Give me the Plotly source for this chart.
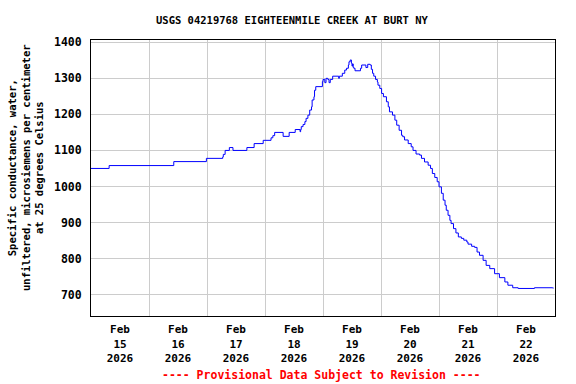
import plotly.graph_objects as go

# Data (time, specific conductance)
times = [
    "2026-02-15 00:00", "2026-02-15 07:30", "2026-02-16 10:15", "2026-02-16 23:45",
    "2026-02-17 06:30", "2026-02-17 06:45", "2026-02-17 07:30", "2026-02-17 09:15",
    "2026-02-17 10:45", "2026-02-17 16:30", "2026-02-17 19:30", "2026-02-17 23:15",
    "2026-02-18 02:30", "2026-02-18 03:15", "2026-02-18 04:00", "2026-02-18 07:30",
    "2026-02-18 10:00", "2026-02-18 12:30", "2026-02-18 14:30", "2026-02-18 14:45",
    "2026-02-18 15:00", "2026-02-18 15:45", "2026-02-18 16:30", "2026-02-18 17:00",
    "2026-02-18 17:45", "2026-02-18 18:30", "2026-02-18 19:15", "2026-02-18 19:30",
    "2026-02-18 20:15", "2026-02-18 20:30", "2026-02-18 21:00", "2026-02-18 23:45",
    "2026-02-19 00:00", "2026-02-19 00:45", "2026-02-19 01:15", "2026-02-19 02:00",
    "2026-02-19 02:30", "2026-02-19 03:00", "2026-02-19 04:00", "2026-02-19 06:30",
    "2026-02-19 06:45", "2026-02-19 08:00", "2026-02-19 09:00", "2026-02-19 09:45",
    "2026-02-19 10:30", "2026-02-19 10:45", "2026-02-19 11:15", "2026-02-19 11:45",
    "2026-02-19 12:00", "2026-02-19 12:15", "2026-02-19 12:30", "2026-02-19 12:45",
    "2026-02-19 13:15", "2026-02-19 15:30", "2026-02-19 16:00", "2026-02-19 17:45",
    "2026-02-19 18:30", "2026-02-19 19:30", "2026-02-19 20:00", "2026-02-19 20:30",
    "2026-02-19 21:00", "2026-02-19 21:45", "2026-02-19 22:30", "2026-02-19 22:45",
    "2026-02-19 23:30", "2026-02-20 00:15", "2026-02-20 01:00", "2026-02-20 02:15",
    "2026-02-20 03:00", "2026-02-20 03:30", "2026-02-20 04:45", "2026-02-20 05:45",
    "2026-02-20 06:30", "2026-02-20 07:30", "2026-02-20 08:30", "2026-02-20 09:00",
    "2026-02-20 09:45", "2026-02-20 11:15", "2026-02-20 12:30", "2026-02-20 13:15",
    "2026-02-20 14:30", "2026-02-20 16:00", "2026-02-20 16:45", "2026-02-20 18:00",
    "2026-02-20 19:30", "2026-02-20 20:30", "2026-02-20 21:15", "2026-02-20 22:15",
    "2026-02-20 23:15", "2026-02-21 00:00", "2026-02-21 01:00", "2026-02-21 01:45",
    "2026-02-21 02:30", "2026-02-21 03:00", "2026-02-21 03:45", "2026-02-21 04:30",
    "2026-02-21 05:00", "2026-02-21 06:00", "2026-02-21 07:00", "2026-02-21 08:00",
    "2026-02-21 09:15", "2026-02-21 10:15", "2026-02-21 11:30", "2026-02-21 12:00",
    "2026-02-21 13:30", "2026-02-21 14:45", "2026-02-21 15:45", "2026-02-21 16:45",
    "2026-02-21 18:15", "2026-02-21 19:30", "2026-02-21 21:00", "2026-02-21 23:00",
    "2026-02-22 01:00", "2026-02-22 03:15", "2026-02-22 04:30", "2026-02-22 06:30",
    "2026-02-22 08:45", "2026-02-22 15:30", "2026-02-22 23:00", "2026-02-22 23:15",
]
values = [
    1050, 1058, 1069, 1078,
    1082, 1089, 1100, 1108,
    1100, 1108, 1119, 1128,
    1135, 1141, 1150, 1139,
    1150, 1158, 1152, 1158,
    1166, 1172, 1180, 1189,
    1198, 1212, 1221, 1240,
    1249, 1267, 1277, 1291,
    1297, 1288, 1300, 1297,
    1288, 1297, 1306, 1300,
    1306, 1314, 1323, 1328,
    1337, 1346, 1351, 1342,
    1334, 1340, 1330, 1328,
    1321, 1328, 1337, 1330,
    1339, 1337, 1325, 1314,
    1306, 1297, 1290, 1281,
    1272, 1258, 1249, 1235,
    1221, 1207, 1198, 1184,
    1170, 1156, 1142, 1138,
    1129, 1119, 1110, 1100,
    1090, 1087, 1078, 1068,
    1059, 1050, 1036, 1025,
    1013, 999, 981, 962,
    948, 934, 920, 906,
    897, 883, 871, 860,
    856, 851, 846, 840,
    834, 831, 818, 809,
    795, 781, 772, 758,
    747, 735, 726, 719,
    717, 719, 719, 717,
]

y_ticks = [700, 800, 900, 1000, 1100, 1200, 1300, 1400]
title_text = "USGS 04219768 EIGHTEENMILE CREEK AT BURT NY"
y_title = "Specific conductance, water,<br>unfiltered, microsiemens per centimeter<br>at 25 degrees Celsius"
footer = "---- Provisional Data Subject to Revision ----"

FONT = "DejaVu Sans Mono"

fig = go.Figure()
fig.add_trace(go.Scatter(
    x=times, y=values, mode="lines",
    line=dict(color="#0000ff", width=1, shape="hv"),
    hoverinfo="skip", showlegend=False,
))

fig.update_layout(
    width=576, height=384,
    margin=dict(l=91, r=21, t=40, b=68),
    paper_bgcolor="white", plot_bgcolor="white",
    font=dict(family=FONT, size=11.5, color="black", weight="bold"),
    showlegend=False,
)

fig.update_xaxes(
    type="date",
    range=["2026-02-15 00:00", "2026-02-23 00:00"],
    dtick=86400000, tick0="2026-02-15",
    ticklabelmode="period",
    tickformat="%b<br>%d<br>%Y",
    showgrid=True, gridcolor="#cccccc", gridwidth=1,
    showline=True, linecolor="black", linewidth=1, mirror=True,
    ticks="", ticklabelstandoff=3,
    tickfont=dict(family=FONT, size=11, weight="bold"),
    zeroline=False,
)
fig.update_yaxes(
    range=[640.6, 1406.4],
    tickvals=y_ticks, ticktext=[str(v) for v in y_ticks],
    showgrid=True, gridcolor="#cccccc", gridwidth=1,
    showline=True, linecolor="black", linewidth=1, mirror=True,
    ticks="", ticklabelstandoff=6,
    tickfont=dict(family=FONT, size=11.5, weight="bold"),
    zeroline=False,
)

fig.add_annotation(
    text=title_text, xref="paper", yref="paper",
    x=(292 - 91) / 464, y=1 + (40 - 20) / 276,
    xanchor="center", yanchor="middle", showarrow=False,
    font=dict(family=FONT, size=10.5, weight="bold", color="black"),
)
fig.add_annotation(
    text=y_title, xref="paper", yref="paper",
    x=(25 - 91) / 464, y=(316 - 168) / 276,
    xanchor="center", yanchor="middle", showarrow=False, textangle=-90,
    font=dict(family=FONT, size=10.5, weight="bold", color="black"),
)
fig.add_annotation(
    text=footer, xref="paper", yref="paper",
    x=(321.5 - 91) / 464, y=-(375 - 316) / 276,
    xanchor="center", yanchor="middle", showarrow=False,
    font=dict(family=FONT, size=11.5, weight="bold", color="red"),
)

fig.write_html(
    "out.html",
    config={"displayModeBar": False},
    post_script="document.body.style.margin='0';document.body.style.overflow='hidden';",
)
